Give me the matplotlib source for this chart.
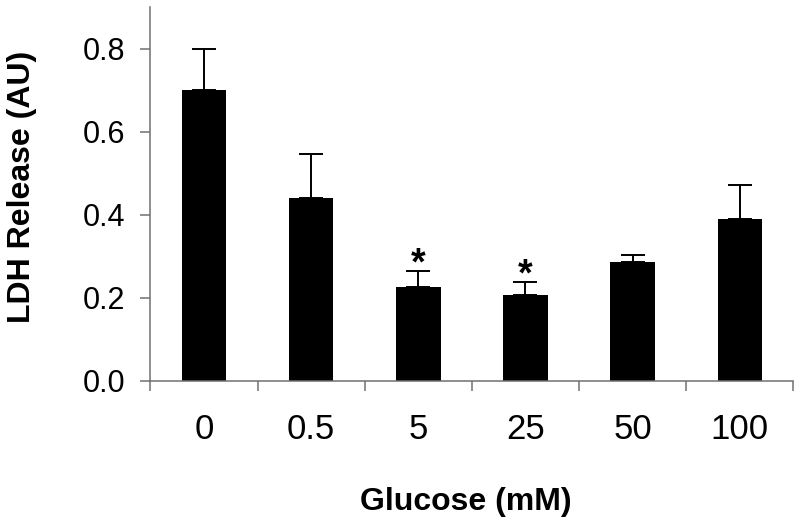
import numpy as np
import matplotlib
matplotlib.use("Agg")
import matplotlib.pyplot as plt

plt.rcParams['font.family'] = ['Liberation Sans', 'DejaVu Sans']

# LDH release vs glucose
glucose = ['0', '0.5', '5', '25', '50', '100']
ldh = [0.70, 0.44, 0.225, 0.206, 0.285, 0.39]
ldh_err = [0.10, 0.107, 0.039, 0.032, 0.019, 0.081]
signif = ['', '', '*', '*', '', '']

fig = plt.figure(figsize=(8, 5.3), dpi=100)
ax = fig.add_axes([0.188, 0.2817, 0.8037, 0.7047])

x = np.arange(len(glucose))
ax.bar(x, ldh, width=0.415, color='black', zorder=2)
ax.errorbar(x, ldh, yerr=[np.zeros(len(ldh)), ldh_err], fmt='none',
            ecolor='black', elinewidth=1.4, capsize=8.5, capthick=1.4, zorder=1)

for xi, v, e, s in zip(x, ldh, ldh_err, signif):
    if s:
        ax.text(xi, v + e - 0.028, s, ha='center', va='bottom',
                fontsize=27, fontweight='bold')

ax.set_xlim(-0.5, len(glucose) - 0.5)
ax.set_ylim(0, 0.9)
ax.set_yticks([0.0, 0.2, 0.4, 0.6, 0.8])
ax.set_yticklabels(['0.0', '0.2', '0.4', '0.6', '0.8'])

# category boundaries get the tick marks, centres get the labels
ax.set_xticks(np.arange(-0.5, len(glucose)), [''] * (len(glucose) + 1))
ax.set_xticks(x, glucose, minor=True)
ax.tick_params(axis='x', which='major', length=7, width=1.1, color='#707070', direction='out')
ax.tick_params(axis='x', which='minor', length=0, pad=23, labelsize=25)
ax.tick_params(axis='y', length=7, width=1.1, color='#707070', direction='out',
               labelsize=22, pad=11)

for side in ['top', 'right']:
    ax.spines[side].set_visible(False)
for side in ['left', 'bottom']:
    ax.spines[side].set_color('#707070')
    ax.spines[side].set_linewidth(1.1)

ax.set_ylabel('LDH Release (AU)', fontsize=23, fontweight='bold', va='center')
ax.yaxis.set_label_coords(-0.20, 0.52)
ax.set_xlabel('Glucose (mM)', fontsize=23, fontweight='bold', va='center')
ax.xaxis.set_label_coords(0.49, -0.324)

fig.savefig('out.png', dpi=100)
